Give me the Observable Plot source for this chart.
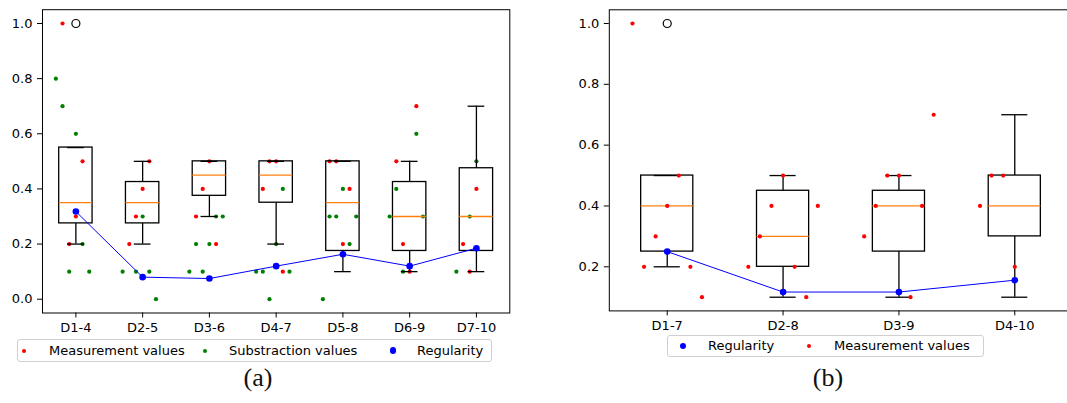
<!DOCTYPE html>
<html>
<head>
<meta charset="utf-8">
<script src="https://cdn.jsdelivr.net/npm/d3@7"></script>
<script src="https://cdn.jsdelivr.net/npm/@observablehq/plot@0.6"></script>
<style>
  html, body { margin: 0; padding: 0; background: #fff; }
  #root { position: relative; width: 1067px; height: 403px; overflow: hidden; background: #fff; font-family: "DejaVu Sans", sans-serif; }
  .panel { position: absolute; top: 0; }
  .panel svg { max-width: none !important; display: block; }
  .legend { position: absolute; border: 1px solid #d0d0d0; border-radius: 3px; background: #fff; box-sizing: border-box; font-size: 13px; color: #000; }
  .legend span { position: absolute; white-space: nowrap; }
  .legend .dot { border-radius: 50%; }
  .caption { position: absolute; font-family: "Liberation Serif", "DejaVu Serif", serif; font-size: 26px; line-height: 26px; transform: translateX(-50%); color: #111; }
</style>
</head>
<body>
<div id="root"></div>
<script>
// ---------- Panel (a) data ----------
const catsA = ["D1-4", "D2-5", "D3-6", "D4-7", "D5-8", "D6-9", "D7-10"];
const regularityA = [0.318, 0.080, 0.075, 0.120, 0.163, 0.120, 0.185];
const q1A  = [0.275, 0.275, 0.375, 0.350, 0.175, 0.175, 0.175];
const medA = [0.350, 0.350, 0.450, 0.450, 0.350, 0.300, 0.300];
const q3A  = [0.550, 0.425, 0.500, 0.500, 0.500, 0.425, 0.475];
const loA  = [0.200, 0.200, 0.300, 0.200, 0.100, 0.100, 0.100];
const hiA  = [0.550, 0.500, 0.500, 0.500, 0.500, 0.500, 0.700];
const fliersA = [["D1-4", 1.0]];
// [category, value, horizontal jitter]
const measurementA = [
  ["D1-4", 1.0, -0.2], ["D1-4", 0.5, 0.1], ["D1-4", 0.3, 0.0], ["D1-4", 0.2, -0.1],
  ["D2-5", 0.5, 0.1], ["D2-5", 0.4, 0.0], ["D2-5", 0.3, -0.1], ["D2-5", 0.2, -0.2],
  ["D3-6", 0.5, 0.0], ["D3-6", 0.4, -0.1], ["D3-6", 0.3, -0.2], ["D3-6", 0.2, 0.1],
  ["D4-7", 0.5, -0.1], ["D4-7", 0.5, 0.0], ["D4-7", 0.4, -0.2], ["D4-7", 0.1, 0.1],
  ["D5-8", 0.5, -0.2], ["D5-8", 0.5, -0.1], ["D5-8", 0.4, 0.1], ["D5-8", 0.2, 0.0],
  ["D6-9", 0.7, 0.1], ["D6-9", 0.5, -0.2], ["D6-9", 0.2, -0.1], ["D6-9", 0.1, 0.0],
  ["D7-10", 0.4, 0.0], ["D7-10", 0.2, -0.2], ["D7-10", 0.1, -0.1]
];
const substractionA = [
  ["D1-4", 0.8, -0.3], ["D1-4", 0.7, -0.2], ["D1-4", 0.6, 0.0], ["D1-4", 0.2, 0.1], ["D1-4", 0.1, -0.1], ["D1-4", 0.1, 0.2],
  ["D2-5", 0.3, 0.0], ["D2-5", 0.1, -0.3], ["D2-5", 0.1, -0.1], ["D2-5", 0.1, 0.1], ["D2-5", 0.0, 0.2],
  ["D3-6", 0.3, 0.1], ["D3-6", 0.3, 0.2], ["D3-6", 0.2, -0.2], ["D3-6", 0.2, 0.0], ["D3-6", 0.1, -0.3], ["D3-6", 0.1, -0.1],
  ["D4-7", 0.4, 0.1], ["D4-7", 0.2, 0.0], ["D4-7", 0.1, -0.3], ["D4-7", 0.1, -0.2], ["D4-7", 0.1, 0.2], ["D4-7", 0.0, -0.1],
  ["D5-8", 0.4, 0.0], ["D5-8", 0.3, -0.2], ["D5-8", 0.3, -0.1], ["D5-8", 0.3, 0.2], ["D5-8", 0.2, 0.1], ["D5-8", 0.0, -0.3],
  ["D6-9", 0.6, 0.1], ["D6-9", 0.4, -0.2], ["D6-9", 0.3, -0.3], ["D6-9", 0.3, 0.2], ["D6-9", 0.1, -0.1],
  ["D7-10", 0.5, 0.0], ["D7-10", 0.3, -0.1], ["D7-10", 0.1, -0.3]
];
const yTicksA = [0.0, 0.2, 0.4, 0.6, 0.8, 1.0];

// ---------- Panel (b) data ----------
const catsB = ["D1-7", "D2-8", "D3-9", "D4-10"];
const regularityB = [0.250, 0.117, 0.117, 0.156];
const q1B  = [0.25, 0.20, 0.25, 0.30];
const medB = [0.40, 0.30, 0.40, 0.40];
const q3B  = [0.50, 0.45, 0.45, 0.50];
const loB  = [0.20, 0.10, 0.10, 0.10];
const hiB  = [0.50, 0.50, 0.50, 0.70];
const fliersB = [["D1-7", 1.0]];
const measurementB = [
  ["D1-7", 1.0, -0.3], ["D1-7", 0.5, 0.1], ["D1-7", 0.4, 0.0], ["D1-7", 0.3, -0.1], ["D1-7", 0.2, -0.2], ["D1-7", 0.2, 0.2], ["D1-7", 0.1, 0.3],
  ["D2-8", 0.5, 0.0], ["D2-8", 0.4, -0.1], ["D2-8", 0.4, 0.3], ["D2-8", 0.3, -0.2], ["D2-8", 0.2, -0.3], ["D2-8", 0.2, 0.1], ["D2-8", 0.1, 0.2],
  ["D3-9", 0.7, 0.3], ["D3-9", 0.5, -0.1], ["D3-9", 0.5, 0.0], ["D3-9", 0.4, -0.2], ["D3-9", 0.4, 0.2], ["D3-9", 0.3, -0.3], ["D3-9", 0.1, 0.1],
  ["D4-10", 0.5, -0.2], ["D4-10", 0.5, -0.1], ["D4-10", 0.4, -0.3], ["D4-10", 0.2, 0.0]
];
const yTicksB = [0.2, 0.4, 0.6, 0.8, 1.0];

// ---------- builder ----------
function buildPanel(cfg) {
  const pos = c => cfg.cats.indexOf(c) + 1;
  const boxes = cfg.cats.map((c, i) => ({
    p: i + 1, q1: cfg.q1[i], med: cfg.med[i], q3: cfg.q3[i], lo: cfg.lo[i], hi: cfg.hi[i]
  }));
  const hw = cfg.boxHalf, cw = cfg.boxHalf / 2;
  const pts = arr => arr.map(([c, v, j]) => ({x: pos(c) + j, y: v}));
  const reg = cfg.reg.map((v, i) => ({x: i + 1, y: v}));
  const fl = cfg.fliers.map(([c, v]) => ({x: pos(c), y: v}));

  const boxMarks = [
    Plot.ruleX(boxes, {x: "p", y1: "q3", y2: "hi", stroke: "black", strokeWidth: 1.3}),
    Plot.ruleX(boxes, {x: "p", y1: "lo", y2: "q1", stroke: "black", strokeWidth: 1.3}),
    Plot.ruleY(boxes, {y: "hi", x1: d => d.p - cw, x2: d => d.p + cw, stroke: "black", strokeWidth: 1.3}),
    Plot.ruleY(boxes, {y: "lo", x1: d => d.p - cw, x2: d => d.p + cw, stroke: "black", strokeWidth: 1.3}),
    Plot.rect(boxes, {x1: d => d.p - hw, x2: d => d.p + hw, y1: "q1", y2: "q3", fill: "none", stroke: "black", strokeWidth: 1.3}),
    Plot.ruleY(boxes, {y: "med", x1: d => d.p - hw, x2: d => d.p + hw, stroke: "#ff7f0e", strokeWidth: 1.3}),
    Plot.dot(fl, {x: "x", y: "y", r: 4, fill: "none", stroke: "black", strokeWidth: 1.2})
  ];
  const scatterMarks = [
    Plot.dot(pts(cfg.meas), {x: "x", y: "y", r: 2.1, fill: "#ff0000"}),
    ...(cfg.sub ? [Plot.dot(pts(cfg.sub), {x: "x", y: "y", r: 2.1, fill: "#008000"})] : [])
  ];
  const regMarks = [
    Plot.line(reg, {x: "x", y: "y", stroke: "#0000ff", strokeWidth: 1}),
    Plot.dot(reg, {x: "x", y: "y", r: 3.3, fill: "#0000ff"})
  ];

  return Plot.plot({
    width: cfg.width, height: cfg.height,
    marginLeft: cfg.ml, marginRight: cfg.mr, marginTop: cfg.mt, marginBottom: cfg.mb,
    x: {domain: [0.5, cfg.cats.length + 0.5], ticks: d3.range(1, cfg.cats.length + 1),
        tickFormat: i => cfg.cats[i - 1], tickSize: 5, tickPadding: 5, label: null},
    y: {domain: cfg.ydomain, ticks: cfg.yticks, tickFormat: d3.format(".1f"),
        tickSize: 5, tickPadding: 5, label: null},
    style: {fontFamily: "DejaVu Sans", fontSize: "13px", color: "black", background: "transparent", overflow: "visible", maxWidth: "none"},
    marks: cfg.scatterFirst
      ? [...scatterMarks, ...boxMarks, ...regMarks, Plot.frame({stroke: "black", strokeWidth: 1})]
      : [...boxMarks, ...scatterMarks, ...regMarks, Plot.frame({stroke: "black", strokeWidth: 1})]
  });
}

const root = document.getElementById("root");

const plotA = buildPanel({
  cats: catsA, reg: regularityA, q1: q1A, med: medA, q3: q3A, lo: loA, hi: hiA,
  fliers: fliersA, meas: measurementA, sub: substractionA,
  ydomain: [-0.05, 1.05], yticks: yTicksA, boxHalf: 0.25,
  width: 540, height: 340, ml: 42, mr: 30.7, mt: 9.2, mb: 27.5, scatterFirst: true
});
const wrapA = document.createElement("div");
wrapA.className = "panel"; wrapA.style.left = "0px"; wrapA.style.width = "540px";
wrapA.appendChild(plotA);
root.appendChild(wrapA);

const plotB = buildPanel({
  cats: catsB, reg: regularityB, q1: q1B, med: medB, q3: q3B, lo: loB, hi: hiB,
  fliers: fliersB, meas: measurementB, sub: null,
  ydomain: [0.055, 1.045], yticks: yTicksB, boxHalf: 0.225,
  width: 520, height: 340, ml: 48.8, mr: 7.8, mt: 9.3, mb: 29.6, scatterFirst: false
});
const wrapB = document.createElement("div");
wrapB.className = "panel"; wrapB.style.left = "560px"; wrapB.style.width = "520px";
wrapB.appendChild(plotB);
root.appendChild(wrapB);

// ---------- legends ----------
function legend(left, top, width, height, items) {
  const box = document.createElement("div");
  box.className = "legend";
  Object.assign(box.style, {left: left + "px", top: top + "px", width: width + "px", height: height + "px"});
  for (const it of items) {
    const d = document.createElement("span");
    d.className = "dot";
    Object.assign(d.style, {left: (it.dx - it.r) + "px", top: (height / 2 - 1 - it.r) + "px",
      width: (2 * it.r) + "px", height: (2 * it.r) + "px", background: it.color});
    box.appendChild(d);
    const t = document.createElement("span");
    t.textContent = it.label;
    Object.assign(t.style, {left: it.tx + "px", top: "0px", lineHeight: (height - 2) + "px"});
    box.appendChild(t);
  }
  root.appendChild(box);
}
legend(17, 339, 475, 23, [
  {label: "Measurement values", color: "#ff0000", r: 2, dx: 6, tx: 31},
  {label: "Substraction values", color: "#008000", r: 2, dx: 187, tx: 211},
  {label: "Regularity", color: "#0000ff", r: 3.2, dx: 375, tx: 399}
]);
legend(667, 335, 317, 22, [
  {label: "Regularity", color: "#0000ff", r: 3.2, dx: 15, tx: 40},
  {label: "Measurement values", color: "#ff0000", r: 2, dx: 141, tx: 166}
]);

// ---------- captions ----------
function caption(text, cx, top) {
  const c = document.createElement("div");
  c.className = "caption";
  c.textContent = text;
  Object.assign(c.style, {left: cx + "px", top: top + "px"});
  root.appendChild(c);
}
caption("(a)", 258, 365);
caption("(b)", 828, 365);
</script>
</body>
</html>
